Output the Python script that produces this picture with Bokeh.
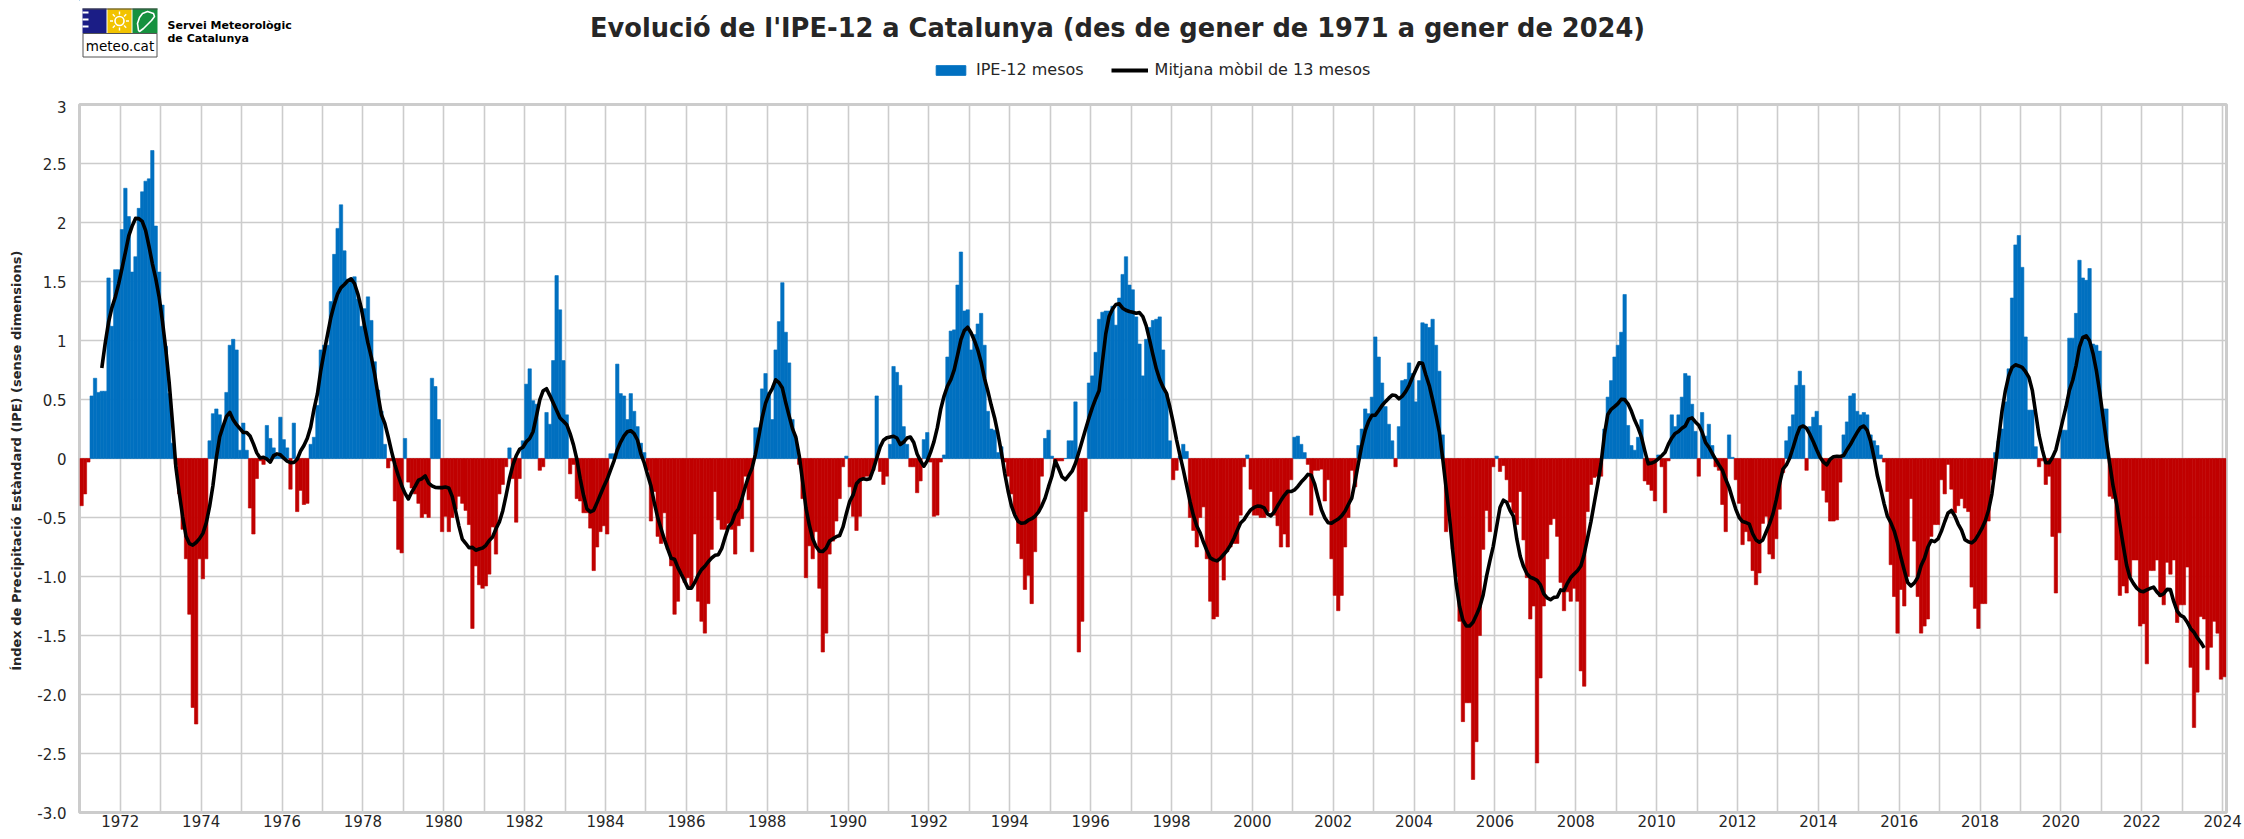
import numpy as np
import pandas as pd
from bokeh.plotting import figure
from bokeh.models import ColumnDataSource, Range1d, FixedTicker, Legend, LegendItem
from bokeh.layouts import column
from bokeh.embed import file_html
from bokeh.resources import INLINE
from bokeh.core.properties import value

# ---------------- data (monthly IPE-12, Jan 1971 .. Jan 2024) ----------------
START_YEAR = 1971

ipe_1970s = [
    -0.40, -0.30, -0.03, 0.53, 0.68, 0.56, 0.57, 0.57, 1.53, 1.12, 1.60, 1.60,   # 1971
    1.94, 2.29, 2.05, 1.58, 1.71, 2.12, 2.26, 2.35, 2.37, 2.61, 1.97, 1.58,       # 1972
    1.30, 0.95, 0.55, 0.13, -0.05, -0.30, -0.60, -0.85, -1.32, -2.11, -2.25, -0.85,  # 1973
    -1.02, -0.85, 0.15, 0.38, 0.42, 0.37, 0.28, 0.56, 0.96, 1.01, 0.92, 0.07,    # 1974
    0.30, 0.07, -0.42, -0.64, -0.17, -0.02, -0.05, 0.28, 0.17, 0.09, 0.02, 0.35, # 1975
    0.16, 0.09, -0.26, 0.30, -0.45, -0.27, -0.39, -0.38, 0.12, 0.18, 0.45, 0.92, # 1976
    0.96, 0.96, 1.33, 1.73, 1.95, 2.15, 1.76, 1.52, 1.53, 1.54, 1.35, 1.12,       # 1977
    1.27, 1.37, 1.17, 0.82, 0.58, 0.40, 0.12, -0.08, -0.02, -0.36, -0.77, -0.80, # 1978
    0.17, -0.20, -0.25, -0.30, -0.38, -0.50, -0.47, -0.50, 0.68, 0.61, 0.33, -0.62,  # 1979
]
ipe_1980s = [
    -0.49, -0.62, -0.50, -0.43, -0.32, -0.38, -0.44, -0.56, -1.44, -0.91, -1.07, -1.10,  # 1980
    -1.08, -0.98, -0.58, -0.81, -0.30, -0.22, -0.07, 0.09, -0.17, -0.54, -0.17, 0.15,   # 1981
    0.63, 0.76, 0.49, 0.46, -0.10, -0.07, 0.39, 0.29, 0.83, 1.55, 1.26, 0.83,          # 1982
    0.37, -0.13, -0.05, -0.34, -0.36, -0.46, -0.46, -0.59, -0.95, -0.75, -0.62, -0.57,  # 1983
    -0.64, 0.04, 0.04, 0.80, 0.55, 0.53, 0.33, 0.55, 0.40, 0.27, 0.13, 0.05,           # 1984
    -0.10, -0.53, -0.28, -0.66, -0.72, -0.46, -0.77, -0.91, -1.32, -1.21, -0.97, -1.05, # 1985
    -1.01, -1.10, -0.64, -1.21, -1.38, -1.48, -1.23, -0.77, -0.28, -0.52, -0.60, -0.60, # 1986
    -0.55, -0.60, -0.81, -0.57, -0.51, -0.15, -0.35, -0.79, 0.26, 0.26, 0.59, 0.72,    # 1987
    0.56, 0.33, 0.92, 1.16, 1.49, 1.07, 0.81, 0.33, 0.17, -0.05, -0.34, -1.01,         # 1988
    -0.74, -0.85, -0.62, -1.10, -1.64, -1.48, -0.81, -0.70, -0.53, -0.34, -0.07, 0.02, # 1989
]
ipe_1990s = [
    -0.24, -0.49, -0.61, -0.49, -0.16, -0.15, -0.15, -0.10, 0.53, -0.11, -0.22, -0.15, # 1990
    0.12, 0.78, 0.73, 0.62, 0.27, 0.12, -0.07, -0.07, -0.29, -0.19, 0.16, 0.22,        # 1991
    -0.03, -0.49, -0.48, -0.03, 0.03, 0.86, 1.08, 1.09, 1.47, 1.75, 1.25, 1.26,        # 1992
    0.92, 1.05, 1.14, 1.23, 0.96, 0.40, 0.25, 0.24, 0.05, 0.10, -0.03, -0.15,          # 1993
    -0.30, -0.47, -0.72, -0.85, -1.11, -0.99, -1.23, -0.79, -0.45, -0.15, 0.17, 0.24,  # 1994
    0.02, -0.03, -0.02, -0.02, 0.00, 0.15, 0.15, 0.48, -1.64, -1.38, -0.45, 0.64,      # 1995
    0.70, 0.90, 1.18, 1.24, 1.25, 1.25, 1.29, 1.13, 1.36, 1.56, 1.71, 1.47,            # 1996
    1.43, 1.20, 0.97, 0.70, 1.01, 1.11, 1.17, 1.18, 1.20, 0.92, 0.55, 0.15,            # 1997
    -0.18, -0.10, 0.02, 0.12, 0.06, -0.50, -0.61, -0.75, -0.50, -0.41, -0.85, -1.21,   # 1998
    -1.36, -1.34, -0.85, -1.03, -0.79, -0.75, -0.72, -0.72, -0.48, -0.07, 0.03, -0.26, # 1999
]
ipe_2000s = [
    -0.48, -0.48, -0.50, -0.50, -0.45, -0.28, -0.48, -0.57, -0.75, -0.64, -0.75, -0.18, # 2000
    0.18, 0.19, 0.12, 0.05, -0.05, -0.48, -0.10, -0.10, -0.09, -0.36, -0.18, -0.85,     # 2001
    -1.16, -1.29, -1.16, -0.75, -0.50, -0.10, -0.24, 0.11, 0.25, 0.42, 0.38, 0.52,      # 2002
    1.03, 0.86, 0.64, 0.44, 0.29, 0.15, -0.07, 0.27, 0.66, 0.67, 0.81, 0.72,            # 2003
    0.48, 0.66, 1.15, 1.14, 1.11, 1.18, 0.96, 0.74, 0.20, -0.62, -0.48, -0.77,          # 2004
    -1.00, -1.38, -2.23, -2.07, -2.07, -2.72, -2.40, -1.50, -0.77, -0.44, -0.62, -0.07, # 2005
    0.02, -0.11, -0.06, -0.18, -0.37, -0.46, -0.56, -0.28, -0.69, -1.01, -1.36, -1.25,  # 2006
    -2.58, -1.86, -1.25, -0.85, -0.56, -0.51, -0.66, -1.05, -1.29, -1.13, -1.21, -1.10, # 2007
    -1.21, -1.80, -1.93, -0.45, -0.22, -0.16, -0.15, -0.15, 0.25, 0.52, 0.66, 0.86,     # 2008
    0.96, 1.07, 1.39, 0.28, 0.11, 0.07, 0.18, 0.33, -0.19, -0.22, -0.27, -0.36,         # 2009
]
ipe_2010s = [
    0.03, -0.07, -0.46, -0.02, 0.37, 0.27, 0.37, 0.52, 0.72, 0.70, 0.46, 0.23,          # 2010
    -0.15, 0.39, 0.19, 0.29, 0.11, -0.07, -0.10, -0.39, -0.62, 0.20, 0.01, -0.18,       # 2011
    -0.38, -0.73, -0.62, -0.70, -0.95, -1.07, -0.97, -0.55, -0.49, -0.81, -0.85, -0.68, # 2012
    -0.43, -0.12, 0.15, 0.27, 0.37, 0.62, 0.74, 0.62, -0.10, 0.27, 0.35, 0.40,          # 2013
    0.28, -0.27, -0.37, -0.53, -0.53, -0.52, -0.20, 0.20, 0.31, 0.53, 0.55, 0.40,       # 2014
    0.37, 0.39, 0.37, 0.20, 0.15, 0.11, 0.03, -0.03, -0.28, -0.90, -1.17, -1.48,        # 2015
    -1.11, -1.25, -1.00, -0.34, -0.70, -1.17, -1.48, -1.42, -1.36, -0.66, -0.56, -0.56, # 2016
    -0.18, -0.30, -0.05, -0.26, -0.46, -0.40, -0.34, -0.42, -0.45, -1.09, -1.27, -1.44, # 2017
    -1.23, -1.23, -0.53, -0.18, 0.05, 0.15, 0.25, 0.48, 0.76, 1.36, 1.81, 1.89,         # 2018
    1.62, 1.03, 0.41, 0.41, 0.10, -0.07, -0.02, -0.22, -0.15, -0.66, -1.14, -0.63,      # 2019
]
ipe_2020s = [
    0.24, 0.24, 1.02, 1.02, 1.23, 1.68, 1.53, 1.51, 1.61, 0.97, 0.96, 0.91,             # 2020
    0.42, 0.42, -0.32, -0.34, -0.86, -1.16, -1.08, -1.14, -1.00, -0.86, -0.86, -1.42,   # 2021
    -1.40, -1.74, -0.95, -0.95, -0.86, -1.17, -1.24, -0.88, -0.98, -0.86, -1.39, -1.24, # 2022
    -1.24, -0.92, -1.77, -2.28, -1.98, -1.34, -1.36, -1.79, -1.60, -1.38, -1.48, -1.87, # 2023
    -1.85,                                                                                # 2024
]

y_ticks = [3, 2.5, 2, 1.5, 1, 0.5, 0, -0.5, -1, -1.5, -2, -2.5, -3]
y_tick_labels = ["3", "2.5", "2", "1.5", "1", "0.5", "0", "-0.5", "-1.0", "-1.5", "-2.0", "-2.5", "-3.0"]
x_label_years = list(range(1972, 2025, 2))
x_grid_years = list(range(1971, 2025))

TITLE = "Evolució de l'IPE-12 a Catalunya (des de gener de 1971 a gener de 2024)"
Y_LABEL = "Índex de Precipitació Estàndard (IPE)  (sense dimensions)"
LEGEND_BAR = "IPE-12 mesos"
LEGEND_LINE = "Mitjana mòbil de 13 mesos"

# ---------------- styling / layout ----------------
FONT = "DejaVu Sans"
BLUE = "#0070C0"
RED = "#C00000"
GRID = "#cccccc"
TXT = "#262626"
W = 2244
FRAME_L = 79          # frame left edge (px)
FRAME_R = 2226        # frame right edge (px)
H_HEAD = 100
H_MAIN = 731

values = np.array(ipe_1970s + ipe_1980s + ipe_1990s + ipe_2000s + ipe_2010s + ipe_2020s, dtype=float)
month_idx = np.arange(len(values))
x_center = START_YEAR + (month_idx + 0.5) / 12.0
ma13 = pd.Series(values).rolling(13, center=True).mean().to_numpy()

is_pos = values >= 0
src_pos = ColumnDataSource(dict(x=x_center[is_pos], top=values[is_pos]))
src_neg = ColumnDataSource(dict(x=x_center[~is_pos], top=values[~is_pos]))
src_ma = ColumnDataSource(dict(x=x_center, y=ma13))

# ---------------- header (logo, title, legend); data units = page pixels ----------------
h = figure(width=W, height=H_HEAD, x_range=Range1d(FRAME_L, FRAME_R), y_range=Range1d(H_HEAD, 0),
           output_backend="svg", toolbar_location=None, x_axis_type=None, y_axis_type=None,
           min_border_left=FRAME_L, min_border_right=W - FRAME_R, min_border_top=0, min_border_bottom=0)
h.outline_line_color = None
h.background_fill_color = "white"
h.border_fill_color = "white"

# logo
h.quad(left=[82, 107, 132], right=[106, 131, 157], top=[8, 8, 8], bottom=[33, 33, 33],
       fill_color=["#1b1d86", "#f2c300", "#16913f"], line_color=None)
h.quad(left=[82.5], right=[156.5], top=[33], bottom=[56.5], fill_color="white", line_color="#555555", line_width=1)
h.segment(x0=[82], y0=[8.5], x1=[157], y1=[8.5], line_color="#444444", line_width=1)
h.quad(left=[82, 82, 82], right=[88, 88, 88], top=[11, 18, 25], bottom=[13, 20, 27],
       fill_color="white", line_color=None)
h.circle(x=[119], y=[20.5], radius=4.5, fill_color=None, line_color="white", line_width=1.6)
ang = np.linspace(0, 2 * np.pi, 9)[:-1]
h.segment(x0=119 + 6.5 * np.cos(ang), y0=20.5 + 6.5 * np.sin(ang),
          x1=119 + 9.5 * np.cos(ang), y1=20.5 + 9.5 * np.sin(ang), line_color="white", line_width=1.4)
h.patch(x=[138, 137, 139, 142, 147, 153, 154, 151, 147, 143, 139],
        y=[30, 23, 17, 13, 11, 13, 16, 20, 24, 28, 31], fill_color=None, line_color="white", line_width=1.6)
h.text(x=[119.5], y=[45.5], text=["meteo.cat"], text_align="center", text_baseline="middle",
       text_font=value(FONT), text_font_size="13.5px", text_color="black")
h.text(x=[167, 167], y=[25, 38], text=["Servei Meteorològic", "de Catalunya"], text_align="left",
       text_baseline="middle", text_font=value(FONT), text_font_size="11px", text_font_style="bold",
       text_color="black")

# title
h.text(x=[1117], y=[27], text=[TITLE], text_align="center", text_baseline="middle",
       text_font=value(FONT), text_font_size="25.7px", text_font_style="bold", text_color=TXT)

# legend swatch renderers (single point kept outside the visible range)
leg_bar = h.vbar(x=[-5000], top=[-5000], bottom=[-5001], width=1, fill_color=BLUE, line_color=BLUE)
leg_line = h.line(x=[-5000, -4999], y=[-5000, -5000], line_color="black", line_width=4)
legend = Legend(items=[LegendItem(label=LEGEND_BAR, renderers=[leg_bar]),
                       LegendItem(label=LEGEND_LINE, renderers=[leg_line])],
                orientation="horizontal", location=(932 - FRAME_L, H_HEAD - 79),
                border_line_color=None, background_fill_alpha=0, padding=2, margin=0,
                spacing=27, glyph_width=37, glyph_height=12, label_standoff=7,
                label_text_font_size="16px", label_text_font=FONT, label_text_color=TXT,
                label_height=16)
h.add_layout(legend)

# ---------------- main chart ----------------
p = figure(width=W, height=H_MAIN, x_range=Range1d(1970.99, 2024.095), y_range=Range1d(-3, 3),
           output_backend="svg", toolbar_location=None,
           min_border_left=FRAME_L, min_border_right=W - FRAME_R, min_border_top=4, min_border_bottom=19)
p.background_fill_color = "white"
p.border_fill_color = "white"
p.outline_line_color = GRID
p.outline_line_width = 3

p.vbar(x="x", top="top", bottom=0, width=1 / 12, source=src_pos,
       fill_color=BLUE, line_color=BLUE, line_width=0.6)
p.vbar(x="x", top="top", bottom=0, width=1 / 12, source=src_neg,
       fill_color=RED, line_color=RED, line_width=0.6)
p.line(x="x", y="y", source=src_ma, line_color="black", line_width=3.6, line_join="round")

p.xaxis.ticker = FixedTicker(ticks=x_label_years)
p.xgrid.ticker = FixedTicker(ticks=x_grid_years)
p.yaxis.ticker = FixedTicker(ticks=y_ticks)
p.ygrid.ticker = FixedTicker(ticks=y_ticks)
p.yaxis.major_label_overrides = {t: lab for t, lab in zip(y_ticks, y_tick_labels)}
p.xaxis.major_label_overrides = {yr: str(yr) for yr in x_label_years}

for g in (p.xgrid, p.ygrid):
    g.grid_line_color = GRID
    g.grid_line_width = 1.6

for ax in (p.xaxis, p.yaxis):
    ax.axis_line_color = None
    ax.major_tick_line_color = None
    ax.minor_tick_line_color = None
    ax.major_tick_out = 0
    ax.major_tick_in = 0
    ax.minor_tick_out = 0
    ax.minor_tick_in = 0
    ax.major_label_text_font = FONT
    ax.major_label_text_font_size = "15px"
    ax.major_label_text_color = TXT

p.xaxis.major_label_standoff = 2
p.yaxis.major_label_standoff = 13
p.yaxis.axis_label = Y_LABEL
p.yaxis.axis_label_text_font = FONT
p.yaxis.axis_label_text_font_size = "13px"
p.yaxis.axis_label_text_font_style = "bold"
p.yaxis.axis_label_text_color = TXT
p.yaxis.axis_label_standoff = 10

layout = column(h, p, spacing=0)
open("out.html", "w").write(file_html(layout, INLINE, title="IPE-12 Catalunya"))
